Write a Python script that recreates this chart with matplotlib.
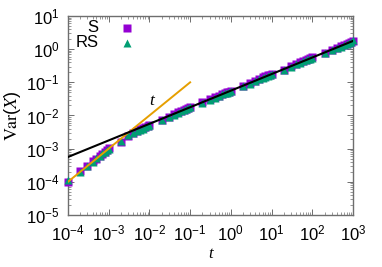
import matplotlib
matplotlib.use("Agg")
import matplotlib.pyplot as plt
import matplotlib.ticker as ticker
import numpy as np

plt.rcParams['font.family'] = ['Liberation Sans', 'DejaVu Sans']
plt.rcParams['mathtext.fontset'] = 'custom'
plt.rcParams['mathtext.rm'] = 'Liberation Sans'
plt.rcParams['mathtext.it'] = 'Liberation Sans:italic'
plt.rcParams['mathtext.default'] = 'regular'

# data
t_vals = [1e-4, 2e-4, 3e-4, 4e-4, 5e-4, 6e-4, 7e-4, 8e-4, 9e-4,
          1e-3, 2e-3, 3e-3, 4e-3, 5e-3, 6e-3, 7e-3, 8e-3, 9e-3,
          1e-2, 2e-2, 3e-2, 4e-2, 5e-2, 6e-2, 7e-2, 8e-2, 9e-2,
          0.1, 0.2, 0.3, 0.4, 0.5, 0.6, 0.7, 0.8, 0.9,
          1, 2, 3, 4, 5, 6, 7, 8, 9,
          10, 20, 30, 40, 50, 60, 70, 80, 90,
          100, 200, 300, 400, 500, 600, 700, 800, 900, 1000]
S_vals = [1.0e-4, 2.1e-4, 2.9e-4, 4.1e-4, 5.0e-4, 6.2e-4, 7.0e-4, 8.1e-4, 9.0e-4,
          1.05e-3, 1.6e-3, 2.4e-3, 3.0e-3, 3.4e-3, 3.8e-3, 4.2e-3, 4.5e-3, 4.8e-3,
          5.2e-3, 7.5e-3, 9.2e-3, 1.1e-2, 1.25e-2, 1.4e-2, 1.5e-2, 1.6e-2, 1.7e-2,
          1.8e-2, 2.5e-2, 3.2e-2, 3.5e-2, 4.0e-2, 4.5e-2, 4.8e-2, 5.0e-2, 5.2e-2,
          0.056, 0.080, 0.095, 0.110, 0.128, 0.140, 0.150, 0.165, 0.172,
          0.18, 0.24, 0.31, 0.36, 0.40, 0.45, 0.47, 0.50, 0.53,
          0.58, 0.77, 0.97, 1.10, 1.24, 1.37, 1.48, 1.56, 1.70, 1.80]
RS_vals = [1.1e-4, 2.0e-4, 3.0e-4, 3.9e-4, 5.1e-4, 6.0e-4, 7.2e-4, 7.9e-4, 9.1e-4,
           1.0e-3, 1.7e-3, 2.5e-3, 2.9e-3, 3.3e-3, 3.7e-3, 4.0e-3, 4.4e-3, 4.7e-3,
           5.0e-3, 7.2e-3, 9.0e-3, 1.05e-2, 1.2e-2, 1.35e-2, 1.45e-2, 1.55e-2, 1.65e-2,
           1.75e-2, 2.4e-2, 3.0e-2, 3.4e-2, 3.9e-2, 4.3e-2, 4.7e-2, 4.9e-2, 5.1e-2,
           0.054, 0.078, 0.092, 0.107, 0.124, 0.137, 0.148, 0.160, 0.168,
           0.175, 0.235, 0.30, 0.35, 0.39, 0.44, 0.46, 0.49, 0.52,
           0.56, 0.75, 0.94, 1.07, 1.20, 1.33, 1.45, 1.55, 1.65, 1.85]
lin_t = [1e-4, 0.1]
lin_v = [1e-4, 0.1]
sq_t = [1e-4, 1e3]
sq_v = [5.6e-4, 1.77]
series_names = ['S', 'RS']

purple = '#9400D3'
teal = '#009E73'
orange = '#E69F00'
frame = '#6e6e6e'

fig = plt.figure(figsize=(3.82, 2.67), dpi=100)
ax = fig.add_axes([0.178, 0.195, 0.746, 0.745])
ax.set_xscale('log')
ax.set_yscale('log')

ms_sq, ms_tri = 5.2, 5.6
ax.plot(t_vals, S_vals, 's', color=purple, ms=ms_sq, mec='none', clip_on=False, zorder=3)
ax.plot(t_vals, RS_vals, '^', color=teal, ms=ms_tri, mec='none', clip_on=False, zorder=4)
ax.plot(lin_t, lin_v, '-', color=orange, lw=1.4, zorder=5)
ax.plot(sq_t, sq_v, '-', color='black', lw=1.5, zorder=5)

ax.set_xlim(1e-4, 1e3)
ax.set_ylim(1e-5, 10)

ax.text(0.0115, 0.027, 't', fontsize=12.5, fontfamily='Liberation Serif', fontstyle='italic',
        ha='center', va='center')

# legend (gnuplot style: right-aligned text, marker to the right)
ax.text(0.107, 0.94, series_names[0], transform=ax.transAxes, ha='right', va='center', fontsize=12)
ax.text(0.107, 0.865, series_names[1], transform=ax.transAxes, ha='right', va='center', fontsize=12)
ax.plot([0.207], [0.94], 's', color=purple, ms=ms_sq, mec='none', transform=ax.transAxes)
ax.plot([0.207], [0.865], '^', color=teal, ms=ms_tri, mec='none', transform=ax.transAxes)

ax.xaxis.set_major_locator(ticker.LogLocator(base=10, numticks=20))
ax.yaxis.set_major_locator(ticker.LogLocator(base=10, numticks=20))
ax.xaxis.set_minor_locator(ticker.LogLocator(base=10, subs=np.arange(2, 10), numticks=20))
ax.yaxis.set_minor_locator(ticker.LogLocator(base=10, subs=np.arange(2, 10), numticks=20))
ax.xaxis.set_minor_formatter(ticker.NullFormatter())
ax.yaxis.set_minor_formatter(ticker.NullFormatter())
ax.xaxis.set_major_formatter(ticker.LogFormatterMathtext())
ax.yaxis.set_major_formatter(ticker.LogFormatterMathtext())

ax.tick_params(which='both', direction='in', top=True, right=True, color=frame, labelsize=12)
ax.tick_params(which='major', length=4, width=0.7)
ax.tick_params(which='minor', length=2, width=0.5)
ax.tick_params(axis='x', which='major', pad=6)
ax.tick_params(axis='y', which='major', pad=6)
for s in ax.spines.values():
    s.set_color(frame)
    s.set_linewidth(1.0)

ax.set_xlabel('t', fontsize=12, fontfamily='Liberation Serif', fontstyle='italic', labelpad=2)
ax.set_ylabel(r'$\mathrm{Var}(\mathit{X})$', fontsize=13, math_fontfamily='stix', labelpad=2)

fig.savefig('out.png', dpi=100)
